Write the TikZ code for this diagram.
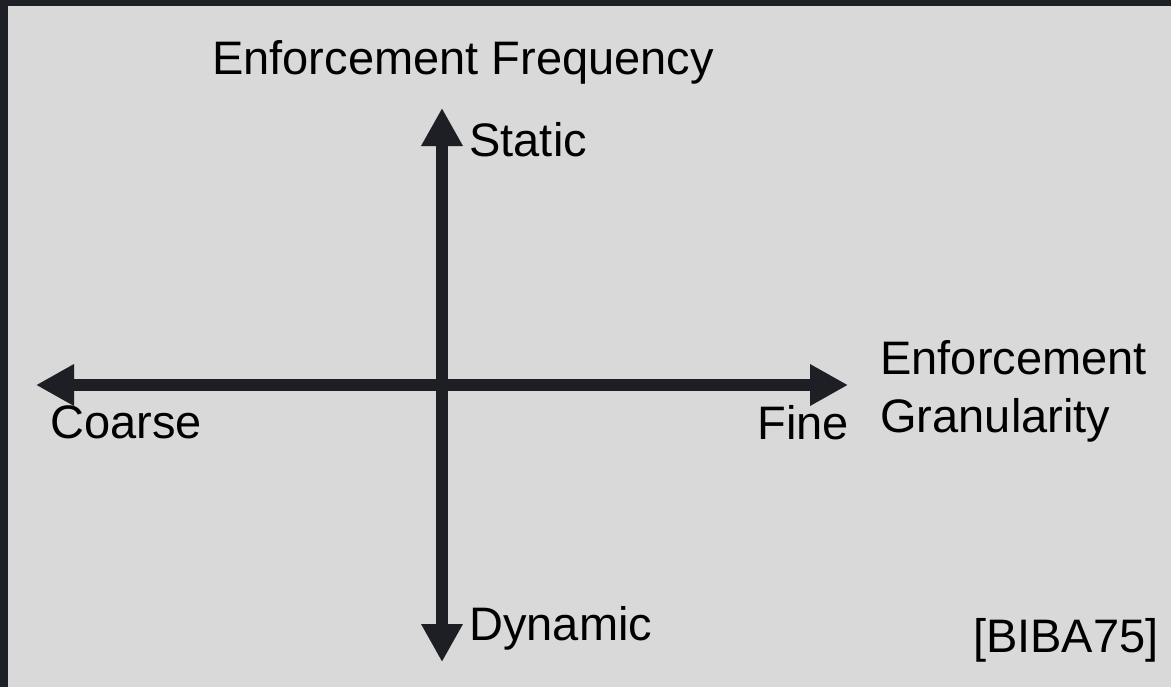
\documentclass[tikz,border=0pt]{standalone}
\usepackage{fontspec}
\setmainfont{Liberation Sans}
\usepackage{xcolor}
\usetikzlibrary{arrows.meta, positioning}
\definecolor{framedark}{RGB}{30, 32, 40}
\definecolor{slidegray}{RGB}{217, 217, 217}
\definecolor{axisdark}{RGB}{30, 31, 36}
\tikzstyle{axis} = [{Triangle[length=19pt, width=19.5pt]}-{Triangle[length=19pt, width=19.5pt]}, line width=6pt, draw=axisdark]
\tikzstyle{axisshadow} = [axis, draw=black, opacity=0.12]
\tikzstyle{lbl} = [inner sep=0pt, font=\fontsize{23.5}{29}\selectfont]

\begin{document}
\begin{tikzpicture}[x=0.5pt, y=-0.5pt]
    \useasboundingbox (0,0) rectangle (1171,687);
    % Frame
    \fill[framedark] (0,0) rectangle (1171,687);
    \fill[slidegray] (8,6) rectangle (1171,687);

    % Axis ends
    \coordinate (static) at (442,108);
    \coordinate (dynamic) at (442,662);
    \coordinate (coarse) at (36,385);
    \coordinate (fine) at (848,385);

    % Shadows
    \begin{scope}[shift={(3,4)}]
        \draw[axisshadow] (coarse) -- (fine);
        \draw[axisshadow] (dynamic) -- (static);
    \end{scope}

    % Axes
    \draw[axis] (coarse) -- (fine);
    \draw[axis] (dynamic) -- (static);

    % Labels
    \node[lbl, anchor=base] (freq) at (463,74) {Enforcement Frequency};
    \node[lbl, anchor=base west] (statlbl) at (469,156) {Static};
    \node[lbl, anchor=base west] (dynlbl) at (469,640) {Dynamic};
    \node[lbl, anchor=base west] (coarselbl) at (50,438) {Coarse};
    \node[lbl, anchor=base west] (finelbl) at (757,439) {Fine};
    \node[lbl, anchor=base west] (gran1) at (880,374) {Enforcement};
    \node[lbl, anchor=base west] (gran2) at (880,432) {Granularity};
    \node[lbl, anchor=base east] (cite) at (1159,652) {[BIBA75]};
\end{tikzpicture}
\end{document}
